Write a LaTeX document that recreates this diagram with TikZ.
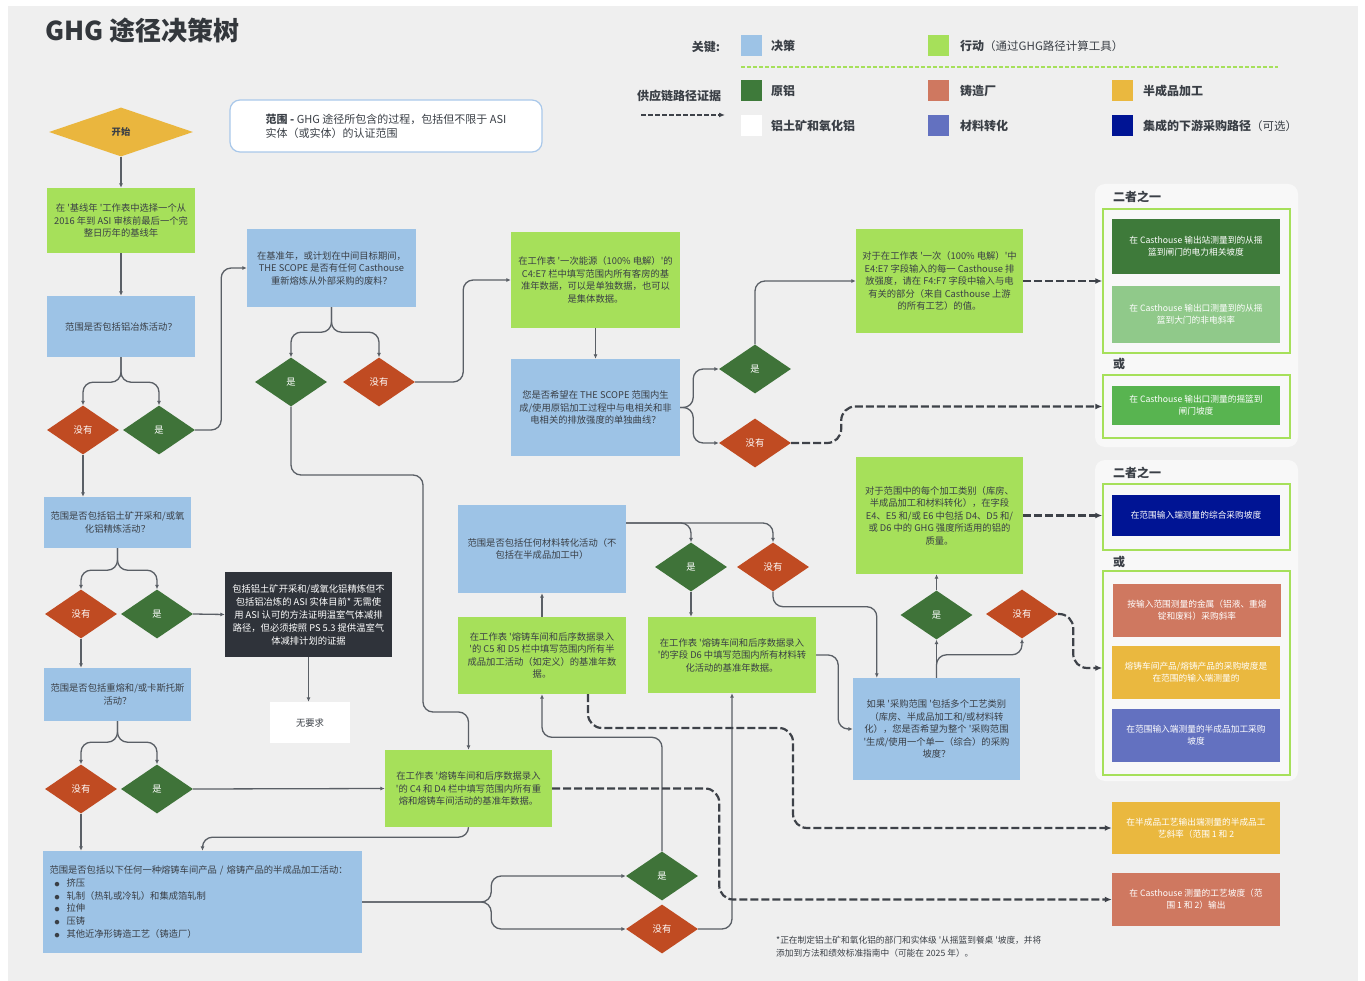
\documentclass[tikz,border=0pt]{standalone}
\usepackage{fontspec}
\setmainfont{Noto Sans CJK SC}
\usetikzlibrary{shapes.geometric,arrows.meta}

\definecolor{canvas}{HTML}{EFEFEF}
\definecolor{decblue}{HTML}{9DC3E6}
\definecolor{actgreen}{HTML}{A6E05A}
\definecolor{yesgreen}{HTML}{3F7339}
\definecolor{nored}{HTML}{C04B22}
\definecolor{startyel}{HTML}{EAB63E}
\definecolor{darkbox}{HTML}{2F333A}
\definecolor{linegray}{HTML}{5A5F66}
\definecolor{evidgray}{HTML}{3E4249}
\definecolor{textdark}{HTML}{3A3F46}
\definecolor{titlegray}{HTML}{33373C}
\definecolor{noteblue}{HTML}{A9C8EA}
\definecolor{panelbg}{HTML}{F8F8F8}
\definecolor{prim1}{HTML}{3E7A3A}
\definecolor{prim2}{HTML}{90C98A}
\definecolor{prim3}{HTML}{58B450}
\definecolor{intnavy}{HTML}{001494}
\definecolor{castsalmon}{HTML}{CF7860}
\definecolor{semiyel}{HTML}{EAB83F}
\definecolor{convblue}{HTML}{6371C0}

\newcommand{\boxfont}{\fontsize{9.3}{12.5}\selectfont}
\newcommand{\panelfont}{\fontsize{8.7}{12}\selectfont}
\newcommand{\legfont}{\fontsize{12}{14}\selectfont}
\newcommand{\notefont}{\fontsize{11}{14}\selectfont}
\newcommand{\footfont}{\fontsize{8.7}{13}\selectfont}
\newcommand{\sq}{\textquotesingle}
\newcommand{\blt}{\hspace*{5pt}{\fontsize{5}{5}\selectfont ●}\hspace{7pt}}

\begin{document}
\begin{tikzpicture}[x=1pt, y=-1pt,
  every node/.style={inner sep=0pt, align=center, font=\boxfont, text=textdark},
  decbox/.style={fill=decblue},
  actbox/.style={fill=actgreen},
  yesdia/.style={diamond, fill=yesgreen, text=white, minimum width=72, minimum height=49},
  nodia/.style={diamond, fill=nored, text=white, minimum width=72, minimum height=49},
  outbox/.style={minimum width=168, text=white, font=\panelfont},
  grpbox/.style={draw=actgreen, line width=1.5, minimum width=187},
  legsq/.style={minimum width=21, minimum height=21},
  linkarrow/.style={draw=linegray, line width=1.3, rounded corners=10, -{Latex[length=4.5pt,width=4pt]}},
  evidarrow/.style={draw=evidgray, line width=2.2, dash pattern=on 8pt off 3pt, rounded corners=14, -{Latex[length=7pt,width=6pt]}}
]

% Canvas
\fill[white] (0,0) rectangle (1365,981);
\fill[canvas] (8,6) rectangle (1358,981);
\useasboundingbox (0,0) rectangle (1365,981);

% Title and scope note
\path (45,30) node[anchor=west, font=\bfseries\fontsize{26}{30}\selectfont, text=titlegray] (title) {GHG 途径决策树};

\path (386,126) node[draw=noteblue, fill=white, line width=1.2, rounded corners=10, minimum width=312, minimum height=52, font=\notefont, align=left] (scopenote) {\textbf{范围 -} GHG 途径所包含的过程，包括但不限于 ASI\\实体（或实体）的认证范围};


% Key
\path (706,47) node[font=\legfont\bfseries] (keylab) {关键:};
\path (751.5,46) node[legsq, fill=decblue] (keydec) {};
\path (771,46) node[anchor=west, font=\legfont\bfseries] (keydectxt) {决策};
\path (938.5,46) node[legsq, fill=actgreen] (keyact) {};
\path (960,46) node[anchor=west, font=\legfont] (keyacttxt) {{\bfseries 行动}{\fontsize{11.5}{14}\selectfont（通过GHG路径计算工具）}};
\draw[actgreen, line width=2, dash pattern=on 4pt off 2pt] (741,67) -- (1278,67);

% Supply chain evidence key
\path (679,96) node[font=\legfont\bfseries] (evidlab) {供应链路径证据};
\coordinate (evidfrom) at (641,115);
\coordinate (evidto) at (725,115);
\draw[evidgray, line width=1.6, dash pattern=on 5pt off 2pt, -{Latex[length=6pt,width=5pt]}] (evidfrom) -- (evidto);

\path (751.5,91) node[legsq, fill=prim1] (keyprim) {};
\path (771,91) node[anchor=west, font=\legfont\bfseries] (keyprimtxt) {原铝};
\path (938.5,91) node[legsq, fill=castsalmon] (keycast) {};
\path (960,91) node[anchor=west, font=\legfont\bfseries] (keycasttxt) {铸造厂};
\path (1122.5,91) node[legsq, fill=semiyel] (keysemi) {};
\path (1143,91) node[anchor=west, font=\legfont\bfseries] (keysemitxt) {半成品加工};

\path (751.5,126) node[legsq, fill=white] (keybaux) {};
\path (771,126) node[anchor=west, font=\legfont\bfseries] (keybauxtxt) {铝土矿和氧化铝};
\path (938.5,126) node[legsq, fill=convblue] (keyconv) {};
\path (960,126) node[anchor=west, font=\legfont\bfseries] (keyconvtxt) {材料转化};
\path (1122.5,126) node[legsq, fill=intnavy] (keyint) {};
\path (1143,126) node[anchor=west, font=\legfont] (keyinttxt) {{\bfseries 集成的下游采购路径}{\fontsize{11.5}{14}\selectfont（可选）}};


% Start and smelting column
\path (121,132) node[diamond, fill=startyel, minimum width=144, minimum height=49, font=\boxfont\bfseries] (start) {开始};

\path (121,220.5) node[actbox, minimum width=148, minimum height=65] (baseyr) {在 \sq 基线年 \sq 工作表中选择一个从\\2016 年到 ASI 审核前最后一个完\\整日历年的基线年};

\path (121,326.5) node[decbox, minimum width=148, minimum height=61] (smeltq) {范围是否包括铝冶炼活动？};

\path (83,430) node[nodia] (nosmelt) {没有};
\path (159,430) node[yesdia] (yessmelt) {是};

% Bauxite / alumina
\path (117.5,522.5) node[decbox, minimum width=147, minimum height=51] (bauxq) {范围是否包括铝土矿开采和/或氧\\化铝精炼活动？};

\path (81,614) node[nodia] (nobaux) {没有};
\path (157,614) node[yesdia] (yesbaux) {是};

\path (308.5,614.5) node[fill=darkbox, text=white, minimum width=167, minimum height=85, font=\fontsize{9.3}{13}\selectfont] (bauxnote) {包括铝土矿开采和/或氧化铝精炼但不\\包括铝冶炼的 ASI 实体目前* 无需使\\用 ASI 认可的方法证明温室气体减排\\路径，但必须按照 PS 5.3 提供温室气\\体减排计划的证据};

\path (310,722.5) node[fill=white, minimum width=80, minimum height=41] (noreq) {无要求};

% Remelt / casthouse
\path (117.5,694.5) node[decbox, minimum width=147, minimum height=53] (remeltq) {范围是否包括重熔和/或卡斯托斯\\活动？};

\path (81,789) node[nodia] (noremelt) {没有};
\path (157,789) node[yesdia] (yesremelt) {是};

\path (468.5,788.5) node[actbox, minimum width=167, minimum height=77] (castdata) {在工作表 \sq 熔铸车间和后序数据录入\\\sq 的 C4 和 D4 栏中填写范围内所有重\\熔和熔铸车间活动的基准年数据。};

% Semi-fabrication
\path (202.5,902) node[decbox, minimum width=319, minimum height=102, text width=306, align=left, font=\fontsize{9.3}{12.8}\selectfont] (semiq) {\mbox{范围是否包括以下任何一种熔铸车间产品 / 熔铸产品的半成品加工活动：}\\
\blt 挤压\\
\blt 轧制（热轧或冷轧）和集成箔轧制\\
\blt 拉伸\\
\blt 压铸\\
\blt 其他近净形铸造工艺（铸造厂）};

\path (662,876) node[yesdia] (yessemi) {是};
\path (662,929) node[nodia] (nosemi) {没有};


% Scrap question
\path (331.5,268) node[decbox, minimum width=169, minimum height=78] (scrapq) {在基准年，或计划在中间目标期间，\\THE SCOPE 是否有任何 Casthouse\\重新熔炼从外部采购的废料？};

\path (291,382) node[yesdia] (yesscrap) {是};
\path (379,382) node[nodia] (noscrap) {没有};

% Primary data
\path (595.5,280) node[actbox, minimum width=169, minimum height=96] (primdata) {在工作表 \sq 一次能源（100\% 电解）\sq 的\\C4:E7 栏中填写范围内所有客房的基\\准年数据，可以是单独数据，也可以\\是集体数据。};

\path (595.5,407.5) node[decbox, minimum width=169, minimum height=97] (curveq) {您是否希望在 THE SCOPE 范围内生\\成/使用原铝加工过程中与电相关和非\\电相关的排放强度的单独曲线？};

\path (755,369) node[yesdia] (yescurve) {是};
\path (755,443) node[nodia] (nocurve) {没有};

\path (939.5,281) node[actbox, minimum width=167, minimum height=104] (elecdata) {对于在工作表 \sq 一次（100\% 电解）\sq 中\\E4:E7 字段输入的每一 Casthouse 排\\放强度，请在 F4:F7 字段中输入与电\\有关的部分（来自 Casthouse 上游\\的所有工艺）的值。};


% Material conversion
\path (542,549) node[decbox, minimum width=168, minimum height=88] (convq) {范围是否包括任何材料转化活动（不\\包括在半成品加工中）};

\path (542,655.5) node[actbox, minimum width=168, minimum height=77] (semidata) {在工作表 \sq 熔铸车间和后序数据录入\\\sq 的 C5 和 D5 栏中填写范围内所有半\\成品加工活动（如定义）的基准年数\\据。};

\path (691,567) node[yesdia] (yesconv) {是};
\path (773,567) node[nodia] (noconv) {没有};

\path (732,655) node[actbox, minimum width=168, minimum height=76] (convdata) {在工作表 \sq 熔铸车间和后序数据录入\\\sq 的字段 D6 中填写范围内所有材料转\\化活动的基准年数据。};

% Aggregate question
\path (936.5,729) node[decbox, minimum width=167, minimum height=102] (aggq) {如果 \sq 采购范围 \sq 包括多个工艺类别\\（库房、半成品加工和/或材料转\\化），您是否希望为整个 \sq 采购范围\\\sq 生成/使用一个单一（综合）的采购\\坡度？};

\path (936.5,615) node[yesdia] (yesagg) {是};
\path (1022,614) node[nodia] (noagg) {没有};

\path (939.5,515.5) node[actbox, minimum width=167, minimum height=117] (massdata) {对于范围中的每个加工类别（库房、\\半成品加工和材料转化），在字段\\E4、E5 和/或 E6 中包括 D4、D5 和/\\或 D6 中的 GHG 强度所适用的铝的\\质量。};


% Output panel, primary
\fill[panelbg, rounded corners=10] (1095,184) rectangle (1298,447);
\path (1113,197) node[anchor=west, font=\legfont\bfseries] (either1) {二者之一};
\path (1196.5,281) node[grpbox, minimum height=144] (grp1a) {};
\path (1196,246.5) node[outbox, fill=prim1, minimum height=55] (elecslope) {在 Casthouse 输出站测量到的从摇\\篮到闸门的电力相关坡度};
\path (1196,314.5) node[outbox, fill=prim2, minimum height=57] (nonelec) {在 Casthouse 输出口测量到的从摇\\篮到大门的非电斜率};
\path (1113,364) node[anchor=west, font=\legfont\bfseries] (or1) {或};
\path (1196.5,406.5) node[grpbox, minimum height=63] (grp1b) {};
\path (1196,405.5) node[outbox, fill=prim3, minimum height=39] (combslope) {在 Casthouse 输出口测量的摇篮到\\闸门坡度};

% Output panel, procurement
\fill[panelbg, rounded corners=10] (1095,460) rectangle (1298,781);
\path (1113,473) node[anchor=west, font=\legfont\bfseries] (either2) {二者之一};
\path (1196.5,517) node[grpbox, minimum height=66] (grp2a) {};
\path (1196,515.5) node[outbox, fill=intnavy, minimum height=41] (intslope) {在范围输入端测量的综合采购坡度};
\path (1113,562) node[anchor=west, font=\legfont\bfseries] (or2) {或};
\path (1196.5,673) node[grpbox, minimum height=204] (grp2b) {};
\path (1197,610.5) node[outbox, fill=castsalmon, minimum height=53] (metalslope) {按输入范围测量的金属（铝液、重熔\\锭和废料）采购斜率};
\path (1196,672.5) node[outbox, fill=semiyel, minimum height=53] (castslope) {熔铸车间产品/熔铸产品的采购坡度是\\在范围的输入端测量的};
\path (1196,735.5) node[outbox, fill=convblue, minimum height=53] (semislope) {在范围输入端测量的半成品加工采购\\坡度};

% Output boxes, bottom
\path (1196,828) node[outbox, fill=semiyel, minimum height=52] (semiout) {在半成品工艺输出端测量的半成品工\\艺斜率（范围 1 和 2};
\path (1196,899.5) node[outbox, fill=castsalmon, minimum height=53] (castout) {在 Casthouse 测量的工艺坡度（范\\围 1 和 2）输出};

% Footnote
\path (776,946.5) node[anchor=west, align=left, font=\footfont] (footnote) {*正在制定铝土矿和氧化铝的部门和实体级 \sq 从摇篮到餐桌 \sq 坡度，并将\\添加到方法和绩效标准指南中（可能在 2025 年）。};


% Connectors, left column
\draw[linkarrow] (start.south) -- (baseyr.north);
\draw[linkarrow] (baseyr.south) -- (smeltq.north);
\draw[linkarrow] (smeltq.south) -- ++(0,25) -| (nosmelt.north);
\draw[linkarrow] (smeltq.south) -- ++(0,25) -| (yessmelt.north);
\draw[linkarrow] (nosmelt.south) -- (nosmelt.south |- bauxq.north);
\draw[linkarrow] (bauxq.south) -- ++(0,22) -| (nobaux.north);
\draw[linkarrow] (bauxq.south) -- ++(0,22) -| (yesbaux.north);
\draw[linkarrow] (yesbaux.east) -- (bauxnote.west);
\draw[linkarrow] (bauxnote.south) -- (bauxnote.south |- noreq.north);
\draw[linkarrow] (nobaux.south) -- (nobaux.south |- remeltq.north);
\draw[linkarrow] (remeltq.south) -- ++(0,21) -| (noremelt.north);
\draw[linkarrow] (remeltq.south) -- ++(0,21) -| (yesremelt.north);
\draw[linkarrow] (yesremelt.east) -- (castdata.west);
\draw[linkarrow] (noremelt.south) -- (noremelt.south |- semiq.north);
\draw[linkarrow] (castdata.south) -- ++(0,10) -| (semiq.north);

% Connectors, scrap and primary
\draw[linkarrow] (yessmelt.east) -- ++(26,0) |- (scrapq.west);
\draw[linkarrow] (scrapq.south) -- ++(0,25) -| (yesscrap.north);
\draw[linkarrow] (scrapq.south) -- ++(0,25) -| (noscrap.north);
\draw[linkarrow] (noscrap.east) -- ++(48,0) |- (primdata.west);
\draw[linkarrow] (yesscrap.south) |- (423,475) -- (423,712) -| (castdata.north);
\draw[linkarrow] (primdata.south) -- (curveq.north);
\draw[linkarrow] (curveq.east) -- ++(13,0) |- (yescurve.west);
\draw[linkarrow] (curveq.east) -- ++(13,0) |- (nocurve.west);
\draw[linkarrow] (yescurve.north) |- (elecdata.west);

% Connectors, semi-fabrication and conversion
\draw[linkarrow] (semiq.east) -- ++(129,0) |- (yessemi.west);
\draw[linkarrow] (semiq.east) -- ++(129,0) |- (nosemi.west);
\draw[linkarrow] (yessemi.north) -- ++(0,-114) -| (semidata.south);
\draw[linkarrow] (nosemi.east) -| (convdata.south);
\draw[linkarrow] (semidata.north) -- (convq.south);
\draw[linkarrow] ([yshift=26]convq.east) -| (yesconv.north);
\draw[linkarrow] ([yshift=26]convq.east) -| (noconv.north);
\draw[linkarrow] (yesconv.south) -- (yesconv.south |- convdata.north);
\draw[linkarrow] (noconv.south) -- ++(0,15) -| ([xshift=24]aggq.north west);
\draw[linkarrow] (convdata.east) -- ++(22,0) |- (aggq.west);
\draw[linkarrow] (aggq.north) -- (aggq.north |- yesagg.south);
\draw[linkarrow] (aggq.north) -- ++(0,-23) -| (noagg.south);
\draw[linkarrow] (yesagg.north) -- (yesagg.north |- massdata.south);

% Evidence paths
\draw[evidarrow] (elecdata.east) -- (elecdata.east -| grp1a.west);
\draw[evidarrow] (nocurve.east) -- ++(50,0) |- (grp1b.west);
\draw[evidarrow] (massdata.east) -- (massdata.east -| grp2a.west);
\draw[evidarrow] (noagg.east) -- ++(15,0) |- ([yshift=5]grp2b.west);
\draw[evidarrow] (castdata.east) -- ++(167,0) |- (castout.west);
\draw[evidarrow] ([xshift=46]semidata.south) |- (793,728) |- (semiout.west);

\end{tikzpicture}
\end{document}
